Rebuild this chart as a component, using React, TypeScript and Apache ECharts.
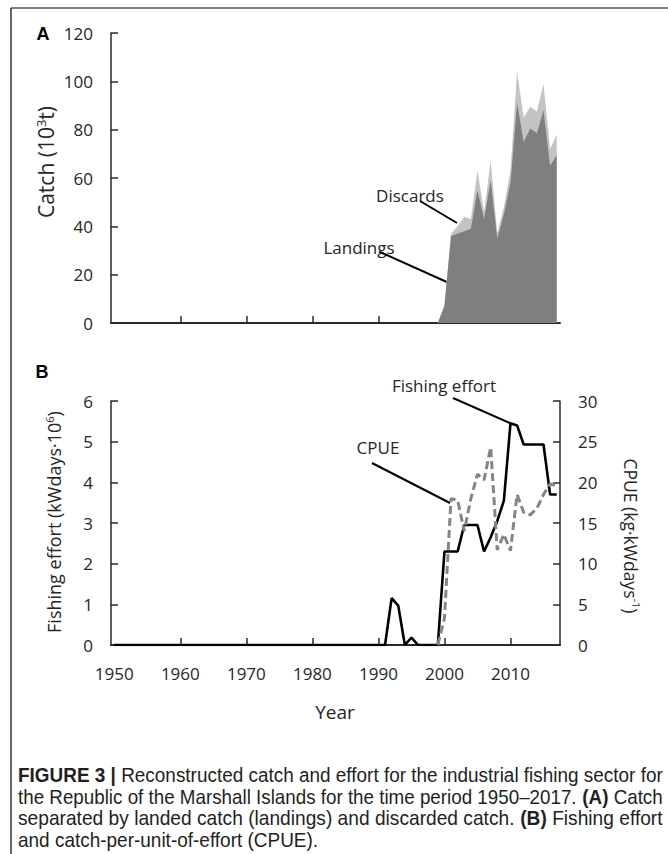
import React, { useEffect, useRef } from "react";
import * as echarts from "echarts";

// ---- Panel A: catch (10^3 t) ----
const catchYears = [1999, 2000, 2001, 2002, 2003, 2004, 2005, 2006, 2007, 2008, 2009, 2010, 2011, 2012, 2013, 2014, 2015, 2016, 2017];
const landings = [0, 7, 36, 37, 38, 39, 55, 43, 59, 35, 45, 58, 91, 75, 80.5, 78.5, 88, 65, 69.5];
const discards = [0, 0.5, 1, 3, 6, 4, 8, 3, 8, 2, 3, 5, 13, 10, 9, 9, 11, 7, 8.5];

// ---- Panel B: fishing effort (kWdays·10^6) and CPUE ----
const effortYears = [1950, 1991, 1992, 1993, 1994, 1995, 1996, 1999, 2000, 2001, 2002, 2003, 2004, 2005, 2006, 2007, 2008, 2009, 2010, 2011, 2012, 2013, 2014, 2015, 2016, 2017];
const effort = [0, 0, 1.15, 0.97, 0, 0.18, 0, 0, 2.3, 2.3, 2.3, 2.95, 2.95, 2.95, 2.3, 2.65, 3.05, 3.55, 5.45, 5.4, 4.93, 4.93, 4.93, 4.93, 3.7, 3.7];
const cpueYears = [1999, 2000, 2001, 2002, 2003, 2004, 2005, 2006, 2007, 2008, 2009, 2010, 2011, 2012, 2013, 2014, 2015, 2016, 2017];
const cpue = [0, 3.3, 18, 17.8, 14, 18, 21, 20.3, 24.3, 11.7, 13.6, 11.6, 18.5, 16.3, 16, 16.8, 18.5, 19.8, 19.6];

// ---- tick labels ----
const yearTicks = [1950, 1960, 1970, 1980, 1990, 2000, 2010];
const innerYearTicks = [1960, 1970, 1980, 1990, 2000, 2010];

// caption: [bold prefix, regular text, bold inline, regular tail]
const captionLines: string[][] = [
  ["FIGURE 3 |", " Reconstructed catch and effort for the industrial fishing sector for", "", ""],
  ["", "the Republic of the Marshall Islands for the time period 1950–2017. ", "(A)", " Catch"],
  ["", "separated by landed catch (landings) and discarded catch. ", "(B)", " Fishing effort"],
  ["", "and catch-per-unit-of-effort (CPUE).", "", ""],
];

const FONT = "'Open Sans', 'Noto Sans', sans-serif";
const CAPFONT = "'Liberation Sans', Arial, sans-serif";
const TXT = "#262626";
const AX = "#2a2a2a";

function pairs(xs: number[], ys: number[]) {
  return xs.map((x, i) => [x, ys[i]]);
}

export default function App() {
  const ref = useRef<HTMLDivElement>(null);
  useEffect(() => {
    if (!ref.current) return;
    const chart = echarts.init(ref.current, undefined, { renderer: "svg" });
    // stacked total (landings + discards) for the upper band
    const totals = landings.map((v, i) => v + discards[i]);

    const xCommon = {
      type: "value" as const,
      min: 1949.5,
      max: 2017.5,
      axisLine: { show: true, onZero: false, lineStyle: { color: AX, width: 2 } },
      splitLine: { show: false },
    };
    const yLabel = { color: TXT, fontSize: 17, fontFamily: FONT, margin: 18 };
    const yLine = { show: true, lineStyle: { color: AX, width: 1.5 } };
    const yTick = { show: true, inside: true, length: 7, lineStyle: { color: AX, width: 1.5 } };

    // measure caption lines so the justified lines span the same width as the reference
    const CAPSIZE = 20;
    const CAPW = 645;
    const ctx = document.createElement("canvas").getContext("2d");
    const measure = (parts: string[]) => {
      if (!ctx) return CAPW;
      let w = 0;
      parts.forEach((p, j) => {
        if (!p) return;
        ctx.font = (j === 0 || j === 2 ? "bold " : "") + CAPSIZE + "px " + CAPFONT;
        w += ctx.measureText(p).width;
      });
      return w;
    };
    const scales = captionLines.map((parts) => CAPW / measure(parts));
    const avgScale = (scales[0] + scales[1] + scales[2]) / 3;

    const caption = captionLines.map((parts, i) => {
      const text =
        (parts[0] ? "{b|" + parts[0] + "}" : "") +
        (parts[1] ? "{r|" + parts[1] + "}" : "") +
        (parts[2] ? "{b|" + parts[2] + "}" : "") +
        (parts[3] ? "{r|" + parts[3] + "}" : "");
      return {
        type: "text",
        x: 18,
        y: 775 + i * 21.5,
        scaleX: i < 3 ? scales[i] : avgScale,
        style: {
          text,
          fill: "#231f20",
          fontFamily: CAPFONT,
          fontSize: CAPSIZE,
          align: "left",
          verticalAlign: "middle",
          rich: {
            b: { fontWeight: "bold", fontFamily: CAPFONT, fontSize: CAPSIZE, fill: "#231f20" },
            r: { fontFamily: CAPFONT, fontSize: CAPSIZE, fill: "#231f20" },
          },
        },
      };
    });

    const rot = (text: string, x: number, y: number, r: number, size: number) => ({
      type: "text",
      x,
      y,
      rotation: r,
      style: {
        text,
        fill: TXT,
        fontFamily: FONT,
        fontSize: size,
        align: "center",
        verticalAlign: "middle",
        rich: {
          n: { fontFamily: FONT, fontSize: size, fill: TXT },
          s: { fontFamily: FONT, fontSize: Math.round(size * 0.63), fill: TXT, verticalAlign: "top", padding: [0, 0, 10, 0] },
        },
      },
    });

    const label = (text: string, x: number, y: number, bold = false, size = 17) => ({
      type: "text",
      x,
      y,
      style: {
        text,
        fill: bold ? "#000" : TXT,
        fontFamily: bold ? CAPFONT : FONT,
        fontWeight: bold ? "bold" : "normal",
        fontSize: size,
        align: "center",
        verticalAlign: "middle",
      },
    });

    const seg = (x1: number, y1: number, x2: number, y2: number, w = 2) => ({
      type: "line",
      shape: { x1, y1, x2, y2 },
      style: { stroke: "#000", lineWidth: w },
    });

    chart.setOption({
      animation: false,
      grid: [
        { left: 111, top: 33, width: 449, height: 290 },
        { left: 111, top: 401, width: 449, height: 244 },
      ],
      xAxis: [
        {
          ...xCommon,
          gridIndex: 0,
          axisTick: { show: true, inside: true, length: 7, customValues: innerYearTicks, lineStyle: { color: AX, width: 1.5 } },
          axisLabel: { show: false },
        },
        {
          ...xCommon,
          gridIndex: 1,
          axisTick: { show: true, inside: true, length: 7, customValues: innerYearTicks, lineStyle: { color: AX, width: 1.5 } },
          axisLabel: {
            show: true, customValues: yearTicks, color: TXT, fontSize: 17, fontFamily: FONT, margin: 20,
            formatter: (v: number) => String(Math.round(v)),
          },
        },
      ],
      yAxis: [
        {
          type: "value", gridIndex: 0, min: 0, max: 120, interval: 20,
          axisLine: yLine, axisTick: yTick, axisLabel: yLabel, splitLine: { show: false },
        },
        {
          type: "value", gridIndex: 1, min: 0, max: 6, interval: 1,
          axisLine: yLine, axisTick: yTick, axisLabel: yLabel, splitLine: { show: false },
        },
        {
          type: "value", gridIndex: 1, min: 0, max: 30, interval: 5, position: "right",
          axisLine: yLine, axisTick: yTick, axisLabel: yLabel, splitLine: { show: false },
        },
      ],
      series: [
        {
          name: "Discards", type: "line", xAxisIndex: 0, yAxisIndex: 0,
          data: pairs(catchYears, totals), symbol: "none",
          lineStyle: { width: 0 }, areaStyle: { color: "#c3c3c3", opacity: 1 },
        },
        {
          name: "Landings", type: "line", xAxisIndex: 0, yAxisIndex: 0,
          data: pairs(catchYears, landings), symbol: "none",
          lineStyle: { width: 0 }, areaStyle: { color: "#7f7f7f", opacity: 1 },
        },
        {
          name: "Fishing effort", type: "line", xAxisIndex: 1, yAxisIndex: 1,
          data: pairs(effortYears, effort), symbol: "none",
          lineStyle: { color: "#000", width: 2.6 },
        },
        {
          name: "CPUE", type: "line", xAxisIndex: 1, yAxisIndex: 2,
          data: pairs(cpueYears, cpue), symbol: "none",
          lineStyle: { color: "#858585", width: 3, type: [8, 4] },
        },
      ],
      graphic: [
        seg(11, 8, 668, 8, 1.2),
        seg(11, 8, 11, 854, 1.2),
        label("A", 43, 34, true, 18),
        label("B", 42, 372, true, 18),
        rot("{n|Catch (10}{s|3}{n|t)}", 46, 162, Math.PI / 2, 21),
        rot("{n|Fishing effort (kWdays·10}{s|6}{n|)}", 54, 522, Math.PI / 2, 18),
        rot("{n|CPUE (kg·kWdays}{s|-1}{n|)}", 631, 536, -Math.PI / 2, 17.5),
        label("Discards", 410, 195),
        label("Landings", 359, 247),
        label("Fishing effort", 444, 385),
        label("CPUE", 378, 447),
        seg(420, 201, 457, 223),
        seg(380, 252, 478, 296),
        seg(453, 398, 510, 423),
        seg(372, 463, 450, 503),
        label("Year", 335, 712, false, 19),
        ...caption,
      ],
    });
    return () => chart.dispose();
  }, []);
  return <div ref={ref} style={{ position: "absolute", left: 0, top: 0, width: 668, height: 854 }} />;
}
